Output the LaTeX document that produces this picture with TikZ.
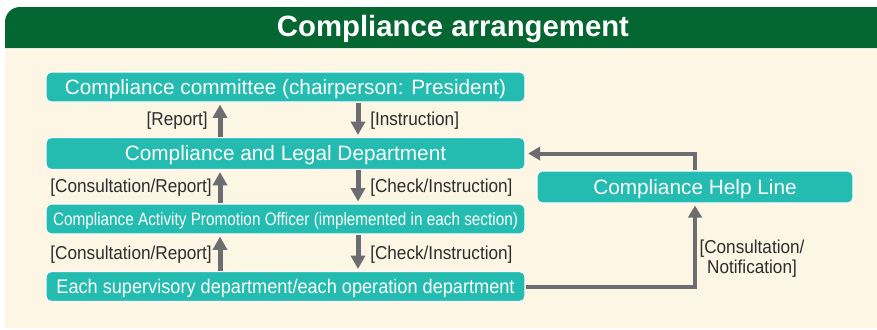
\documentclass[tikz,border=0pt]{standalone}
\usepackage{fontspec}
\setmainfont{Liberation Sans}
\newfontfamily\narrowfont[FakeStretch=0.92]{Liberation Sans}
\newfontfamily\condfont[FakeStretch=0.85]{Liberation Sans}
\usetikzlibrary{arrows.meta}

\definecolor{hdgreen}{RGB}{4,102,48}
\definecolor{cream}{RGB}{254,246,229}
\definecolor{boxteal}{RGB}{36,188,176}
\definecolor{arrowgray}{RGB}{108,109,113}
\definecolor{labelgray}{RGB}{45,45,45}

\tikzset{
  unitbox/.style={rectangle, rounded corners=4pt, fill=boxteal, draw=white, line width=0.8pt, text=white, inner sep=0pt, minimum height=22.5pt, text height=11.2pt, text depth=0pt, font=\fontsize{15.6}{18}\selectfont},
  flow/.style={arrowgray, line width=3.75pt, -{Triangle[length=10pt,width=10.5pt]}},
  side/.style={arrowgray, line width=3pt, -{Triangle[length=9pt,width=10pt]}},
  tag/.style={text=labelgray, inner sep=0pt, font=\narrowfont\fontsize{14}{15}\selectfont},
}

\begin{document}
\begin{tikzpicture}[x=0.75pt, y=-0.75pt]
        \useasboundingbox (0,0) rectangle (877,329);
        % panel
        \fill[cream] (5,49) rectangle (877,328);
        \fill[hdgreen] (5,48) -- (5,22) arc[start angle=180, end angle=270, radius=15] -- (877,7) -- (877,48) -- cycle;
        \node[text=white, font=\bfseries\fontsize{22}{24}\selectfont] (title) at (453,29) {Compliance arrangement};

        % boxes
        \node[unitbox, minimum width=359.25pt] (committee) at (285.5,87) {Compliance committee (chairperson: President)};
        \node[unitbox, minimum width=359.25pt, minimum height=24pt] (legal) at (285.5,153.5) {Compliance and Legal Department};
        \node[unitbox, minimum width=359.25pt, text height=9.7pt, font=\condfont\fontsize{13.5}{16}\selectfont] (officer) at (285.5,219) {Compliance Activity Promotion Officer (implemented in each section)};
        \node[unitbox, minimum width=359.25pt, text height=10.6pt, font=\narrowfont\fontsize{14.8}{18}\selectfont] (dept) at (285.5,286.5) {Each supervisory department/each operation department};
        \node[unitbox, minimum width=237pt, minimum height=24pt] (help) at (695,187) {Compliance Help Line};

        % vertical flows
        \coordinate (upx) at (220,0);
        \coordinate (dnx) at (358,0);
        \draw[flow, shorten >=1.5pt] (legal.north -| upx) -- (committee.south -| upx);
        \draw[flow, shorten >=1.5pt] (committee.south -| dnx) -- (legal.north -| dnx);
        \draw[flow, shorten >=1.5pt] (officer.north -| upx) -- (legal.south -| upx);
        \draw[flow, shorten >=1.5pt] (legal.south -| dnx) -- (officer.north -| dnx);
        \draw[flow, shorten >=1.5pt] (dept.north -| upx) -- (officer.south -| upx);
        \draw[flow, shorten >=1.5pt] (officer.south -| dnx) -- (dept.north -| dnx);

        \node[tag, anchor=east] (lreport) at (208,121) {[Report]};
        \node[tag, anchor=west] (linstr) at (370,121) {[Instruction]};
        \node[tag, anchor=east] (lconsult1) at (212,188) {[Consultation/Report]};
        \node[tag, anchor=west] (lcheck1) at (370,188) {[Check/Instruction]};
        \node[tag, anchor=east] (lconsult2) at (212,255) {[Consultation/Report]};
        \node[tag, anchor=west] (lcheck2) at (370,255) {[Check/Instruction]};

        % help line
        \draw[side, shorten >=2pt] (help.north) |- (legal.east);
        \draw[side, shorten >=1.5pt] (dept.east) -| (help.south);
        \node[tag, align=center] (lnotify) at (752,259) {[Consultation/\\Notification]};
\end{tikzpicture}
\end{document}
